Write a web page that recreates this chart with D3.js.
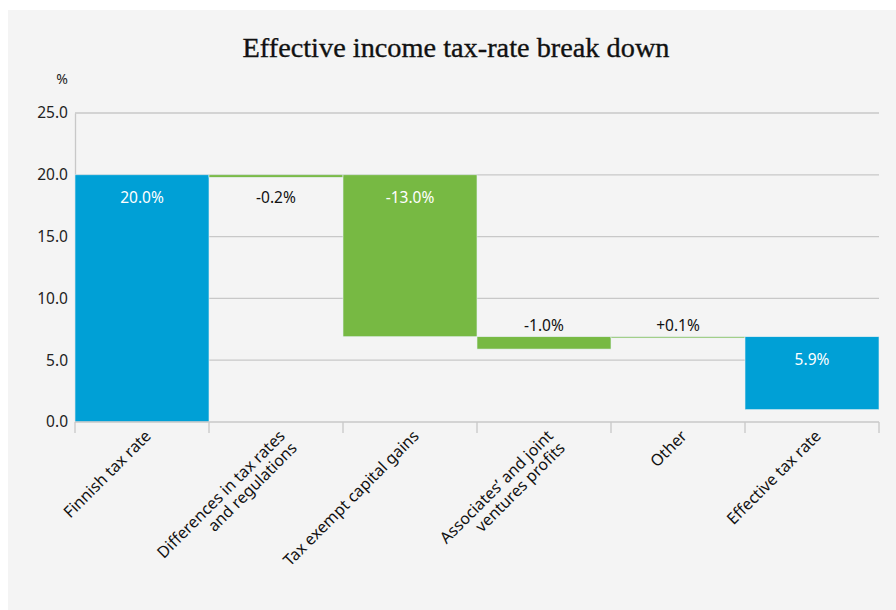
<!DOCTYPE html>
<html>
<head>
<meta charset="utf-8">
<script src="https://cdn.jsdelivr.net/npm/d3@7"></script>
<style>
  html, body { margin: 0; padding: 0; background: #ffffff; }
  svg { display: block; }
</style>
</head>
<body>
<svg id="chart" width="896" height="610"></svg>
<script>
// ---- data ----
const categories = [
  ["Finnish tax rate"],
  ["Differences in tax rates", "and regulations"],
  ["Tax exempt capital gains"],
  ["Associates’ and joint", "ventures profits"],
  ["Other"],
  ["Effective tax rate"]
];
const barStart = [0.0, 20.0, 20.0, 6.9, 6.8, 1.0];
const barEnd   = [20.0, 19.8, 6.9, 5.9, 6.9, 6.9];
const valueLabels = ["20.0%", "-0.2%", "-13.0%", "-1.0%", "+0.1%", "5.9%"];
const barKind = ["total", "change", "change", "change", "change", "total"];
const labelPlacement = ["inside", "inside", "inside", "above", "above", "inside"];
const yTicks = [0, 5, 10, 15, 20, 25];

// ---- layout ----
const svg = d3.select("#chart");
const W = 896, H = 610;
const m = { left: 75, right: 17, top: 113, bottom: 188 };

svg.append("rect").attr("x", 8).attr("y", 10).attr("width", W - 8).attr("height", H - 10)
  .attr("fill", "#f4f4f4");

svg.append("text").attr("x", 456).attr("y", 57).attr("text-anchor", "middle")
  .attr("font-family", "'Liberation Serif', 'DejaVu Serif', serif")
  .attr("font-size", 28).attr("fill", "#111")
  .attr("stroke", "#111").attr("stroke-width", 0.35)
  .attr("textLength", 427).attr("lengthAdjust", "spacingAndGlyphs")
  .text("Effective income tax-rate break down");

const x = d3.scaleBand().domain(d3.range(categories.length))
  .range([m.left, W - m.right]).padding(0);
const y = d3.scaleLinear().domain([0, 25]).range([H - m.bottom, m.top]);

const sans = "'Noto Sans', 'Open Sans', sans-serif";

// gridlines
svg.append("g").selectAll("line").data(yTicks.filter(d => d > 0)).join("line")
  .attr("x1", m.left).attr("x2", W - m.right)
  .attr("y1", d => y(d)).attr("y2", d => y(d))
  .attr("stroke", "#c8c8c8").attr("stroke-width", 1.3);

// y axis
const yAxis = svg.append("g").attr("transform", `translate(${m.left},0)`)
  .call(d3.axisLeft(y).tickValues(yTicks).tickFormat(d3.format(".1f")).tickSize(0).tickPadding(7));
yAxis.select(".domain").attr("stroke", "#c8c8c8").attr("stroke-width", 1.3);
yAxis.selectAll("text").attr("font-family", sans).attr("font-size", 15.5).attr("fill", "#222");

svg.append("text").attr("x", 62).attr("y", 84).attr("text-anchor", "middle")
  .attr("font-family", sans).attr("font-size", 14).attr("fill", "#222").text("%");

// bars
const colors = { total: "#00a0d6", change: "#77b943" };
svg.append("g").selectAll("rect").data(categories.map((c, i) => i)).join("rect")
  .attr("x", i => x(i))
  .attr("width", x.bandwidth())
  .attr("y", i => y(Math.max(barStart[i], barEnd[i])))
  .attr("height", i => Math.max(1.2, Math.abs(y(barStart[i]) - y(barEnd[i]))))
  .attr("fill", i => colors[barKind[i]])
  .attr("stroke", "#e6f0f3").attr("stroke-width", 0.6);

// x axis (baseline + ticks at band boundaries)
const bounds = d3.range(categories.length + 1).map(i => i < categories.length ? x(i) : x(i - 1) + x.bandwidth());
svg.append("line").attr("x1", m.left).attr("x2", W - m.right)
  .attr("y1", y(0)).attr("y2", y(0)).attr("stroke", "#c8c8c8").attr("stroke-width", 1.5);
svg.append("g").selectAll("line").data(bounds).join("line")
  .attr("x1", d => d).attr("x2", d => d)
  .attr("y1", y(0)).attr("y2", y(0) + 11)
  .attr("stroke", "#c8c8c8").attr("stroke-width", 1.3);

// value labels
svg.append("g").selectAll("text").data(categories.map((c, i) => i)).join("text")
  .attr("x", i => x(i) + x.bandwidth() / 2)
  .attr("y", i => {
    const top = y(Math.max(barStart[i], barEnd[i]));
    return labelPlacement[i] === "inside" ? top + 28.5 : top - 5.5;
  })
  .attr("text-anchor", "middle")
  .attr("font-family", sans).attr("font-size", 15.5)
  .attr("fill", (i) => (labelPlacement[i] === "inside" && Math.abs(y(barStart[i]) - y(barEnd[i])) > 30) ? "#ffffff" : "#111")
  .text(i => valueLabels[i]);

// category labels
const cat = svg.append("g").selectAll("g").data(categories.map((c, i) => i)).join("g")
  .attr("transform", i => `translate(${x(i) + x.bandwidth() / 2 + 10},${y(0) + 15}) rotate(-45)`);
cat.each(function (i) {
  const t = d3.select(this).append("text").attr("text-anchor", "end")
    .attr("font-family", sans).attr("font-size", 16).attr("fill", "#111");
  categories[i].forEach((line, k) => {
    t.append("tspan").attr("x", 0).attr("y", 0).attr("dy", (k * 17) + "px").text(line);
  });
});
</script>
</body>
</html>
